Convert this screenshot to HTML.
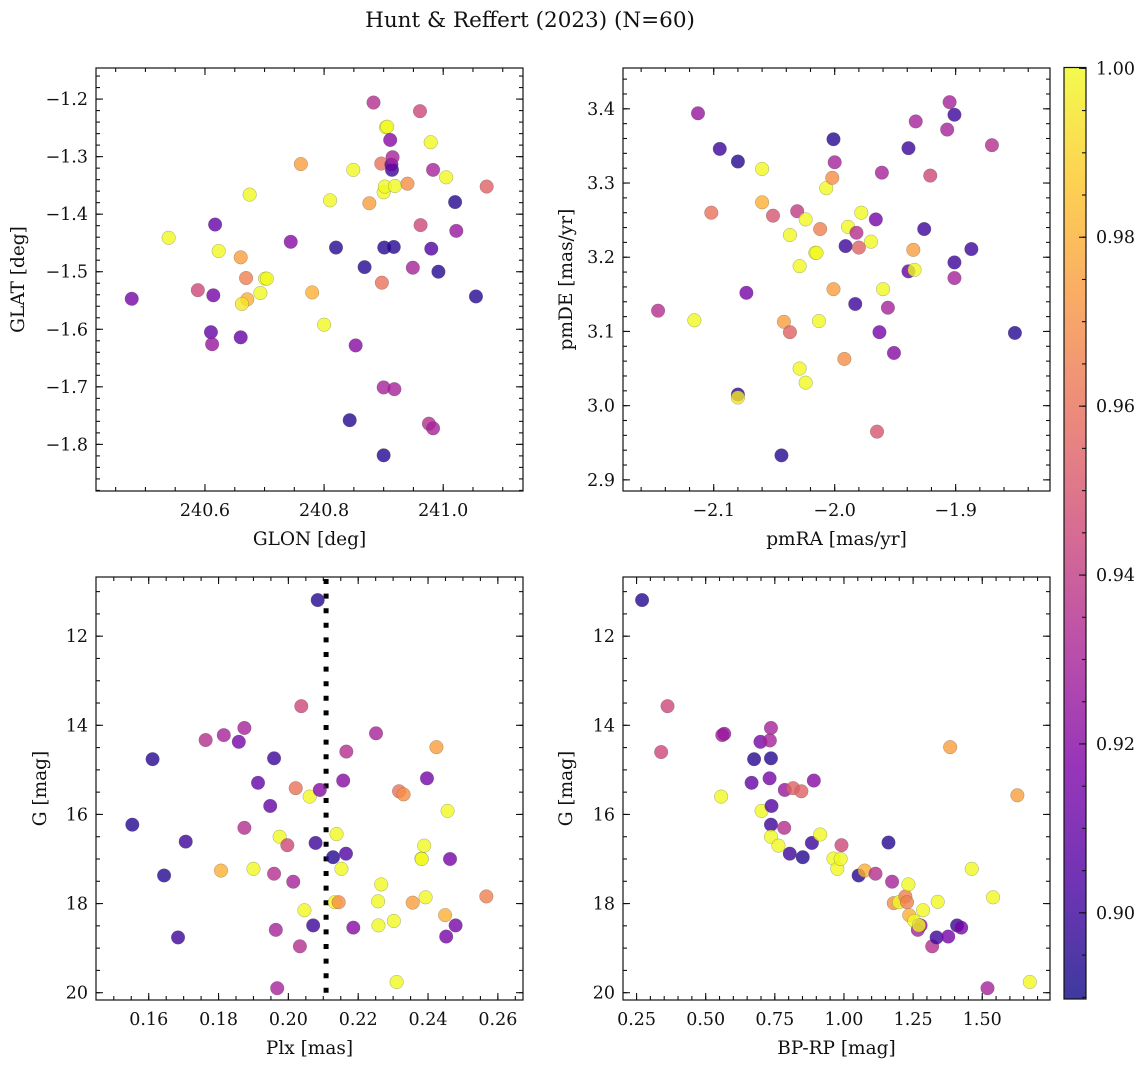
<!DOCTYPE html>
<html><head><meta charset="utf-8"><title>Hunt & Reffert (2023) (N=60)</title>
<style>
html,body{margin:0;padding:0;background:#fff;}
svg{display:block;font-family:"DejaVu Serif","Liberation Serif",serif;}
</style></head>
<body>
<svg id="fig" width="1148" height="1067" viewBox="0 0 1148 1067" xmlns="http://www.w3.org/2000/svg">
<text x="530" y="27" text-anchor="middle" font-size="21.5" fill="#111">Hunt &amp; Reffert (2023) (N=60)</text>
</svg>
<script>
// ---------- Panel 1: GLON vs GLAT ----------
const p1Glon=[240.477,240.539,240.588,240.617,240.614,240.610,240.612,240.623,240.660,240.669,240.671,240.662,240.660,240.675,240.693,240.701,240.704,240.744,240.761,240.780,240.800,240.810,240.820,240.843,240.849,240.853,240.868,240.876,240.883,240.896,240.897,240.900,240.900,240.901,240.900,240.902,240.904,240.906,240.911,240.914,240.913,240.915,240.918,240.917,240.919,240.940,240.949,240.961,240.962,240.979,240.980,240.976,240.983,240.983,240.992,241.005,241.020,241.022,241.055,241.073];
const p1Glat=[-1.547,-1.441,-1.532,-1.418,-1.541,-1.605,-1.626,-1.464,-1.475,-1.511,-1.548,-1.556,-1.614,-1.366,-1.537,-1.512,-1.512,-1.448,-1.313,-1.536,-1.592,-1.376,-1.458,-1.758,-1.323,-1.628,-1.492,-1.381,-1.206,-1.312,-1.519,-1.701,-1.819,-1.458,-1.362,-1.352,-1.249,-1.248,-1.271,-1.323,-1.314,-1.301,-1.704,-1.457,-1.351,-1.347,-1.493,-1.221,-1.419,-1.275,-1.460,-1.764,-1.772,-1.323,-1.500,-1.336,-1.379,-1.429,-1.543,-1.352];
const p1Prob=[0.915,1.0,0.945,0.91,0.915,0.91,0.925,1.0,0.975,0.965,0.98,0.995,0.91,1.0,1.0,1.0,1.0,0.92,0.975,0.98,1.0,1.0,0.895,0.895,1.0,0.92,0.895,0.975,0.935,0.96,0.96,0.93,0.895,0.895,1.0,1.0,1.0,1.0,0.92,0.9,0.91,0.93,0.93,0.895,1.0,0.97,0.93,0.945,0.945,1.0,0.905,0.935,0.93,0.93,0.895,1.0,0.895,0.925,0.895,0.955];
const p1XTicks=[240.6,240.8,241.0];
const p1XTickLabels=["240.6","240.8","241.0"];
const p1YTicks=[-1.8,-1.7,-1.6,-1.5,-1.4,-1.3,-1.2];
const p1YTickLabels=["\u22121.8","\u22121.7","\u22121.6","\u22121.5","\u22121.4","\u22121.3","\u22121.2"];

// ---------- Panel 2: pmRA vs pmDE ----------
const p2Pmra=[-2.146,-2.116,-2.113,-2.102,-2.095,-2.080,-2.080,-2.080,-2.073,-2.060,-2.060,-2.051,-2.044,-2.042,-2.037,-2.037,-2.031,-2.029,-2.029,-2.024,-2.024,-2.016,-2.015,-2.013,-2.012,-2.007,-2.002,-2.001,-2.001,-2.000,-1.992,-1.991,-1.989,-1.983,-1.982,-1.980,-1.978,-1.970,-1.966,-1.965,-1.963,-1.961,-1.960,-1.956,-1.951,-1.939,-1.939,-1.934,-1.935,-1.933,-1.926,-1.921,-1.907,-1.905,-1.901,-1.901,-1.901,-1.887,-1.870,-1.851];
const p2Pmde=[3.128,3.115,3.394,3.260,3.346,3.329,3.015,3.011,3.152,3.319,3.274,3.256,2.933,3.113,3.099,3.230,3.262,3.188,3.050,3.251,3.031,3.206,3.206,3.114,3.238,3.293,3.307,3.157,3.359,3.328,3.063,3.215,3.241,3.137,3.233,3.213,3.260,3.221,3.251,2.965,3.099,3.314,3.157,3.132,3.071,3.347,3.181,3.183,3.210,3.383,3.238,3.310,3.372,3.409,3.392,3.193,3.172,3.211,3.351,3.098];
const p2Prob=[0.935,1.0,0.925,0.96,0.9,0.895,0.895,0.995,0.915,1.0,0.98,0.95,0.895,0.975,0.955,1.0,0.94,1.0,1.0,1.0,1.0,1.0,1.0,1.0,0.965,1.0,0.97,0.975,0.895,0.93,0.97,0.9,1.0,0.9,0.935,0.955,1.0,1.0,0.915,0.95,0.915,0.93,1.0,0.93,0.92,0.9,0.91,1.0,0.975,0.93,0.9,0.945,0.93,0.93,0.9,0.9,0.93,0.9,0.935,0.895];
const p2XTicks=[-2.1,-2.0,-1.9];
const p2XTickLabels=["\u22122.1","\u22122.0","\u22121.9"];
const p2YTicks=[2.9,3.0,3.1,3.2,3.3,3.4];
const p2YTickLabels=["2.9","3.0","3.1","3.2","3.3","3.4"];

// ---------- Panel 3: Plx vs G ----------
const p3Plx=[0.1553,0.1611,0.1644,0.1684,0.1706,0.1763,0.1807,0.1815,0.1858,0.1874,0.1874,0.1900,0.1913,0.1948,0.1959,0.1959,0.1964,0.1968,0.1975,0.1997,0.2014,0.2021,0.2033,0.2037,0.2046,0.2061,0.2071,0.2078,0.2084,0.2090,0.2128,0.2133,0.2144,0.2138,0.2152,0.2157,0.2165,0.2166,0.2186,0.2251,0.2257,0.2258,0.2266,0.2302,0.2310,0.2317,0.2330,0.2356,0.2381,0.2382,0.2389,0.2393,0.2397,0.2424,0.2449,0.2452,0.2456,0.2463,0.2479,0.2567];
const p3G=[16.23,14.76,17.37,18.76,16.61,14.33,17.26,14.22,14.37,14.06,16.30,17.22,15.29,15.81,14.74,17.33,18.59,19.90,16.50,16.69,17.51,15.41,18.96,13.57,18.15,15.60,18.49,16.64,11.19,15.45,16.96,17.97,17.97,16.44,17.22,15.24,16.88,14.59,18.54,14.18,17.95,18.49,17.57,18.39,19.76,15.48,15.55,17.98,16.99,17.00,16.70,17.86,15.19,14.49,18.26,18.74,15.92,17.00,18.49,17.84];
const p3Prob=[0.895,0.895,0.895,0.9,0.9,0.935,0.98,0.93,0.915,0.93,0.935,1.0,0.91,0.91,0.9,0.935,0.93,0.93,1.0,0.945,0.93,0.96,0.935,0.945,1.0,1.0,0.9,0.9,0.895,0.92,0.895,1.0,0.97,1.0,1.0,0.92,0.905,0.935,0.92,0.93,1.0,1.0,1.0,1.0,1.0,0.96,0.97,0.975,1.0,1.0,1.0,1.0,0.915,0.975,0.98,0.915,1.0,0.915,0.915,0.965];
const p3PlxCut=[0.2108];
const p3XTicks=[0.16,0.18,0.20,0.22,0.24,0.26];
const p3XTickLabels=["0.16","0.18","0.20","0.22","0.24","0.26"];
const gTicks=[12,14,16,18,20];
const gTickLabels=["12","14","16","18","20"];

// ---------- Panel 4: BP-RP vs G ----------
const p4Bprp=[0.270,0.339,0.362,0.556,0.560,0.567,0.666,0.675,0.698,0.702,0.731,0.732,0.736,0.736,0.738,0.736,0.736,0.763,0.784,0.786,0.804,0.816,0.846,0.851,0.884,0.891,0.914,0.962,0.976,0.988,0.991,1.053,1.075,1.114,1.161,1.174,1.180,1.199,1.222,1.228,1.233,1.236,1.254,1.267,1.277,1.271,1.286,1.319,1.335,1.339,1.377,1.384,1.409,1.424,1.462,1.519,1.539,1.627,1.672];
const p4G=[11.19,14.60,13.57,15.60,14.22,14.19,15.29,14.76,14.37,15.92,15.19,14.34,14.06,14.74,15.81,16.23,16.50,16.70,16.30,15.45,16.88,15.41,15.48,16.96,16.64,15.24,16.45,16.99,17.22,17.00,16.69,17.37,17.26,17.33,16.63,17.51,17.99,17.97,17.84,17.97,17.57,18.26,18.39,18.59,18.49,18.49,18.15,18.96,18.76,17.96,18.74,14.49,18.49,18.54,17.22,19.90,17.86,15.57,19.76];
const p4Prob=[0.895,0.945,0.945,1.0,0.93,0.925,0.91,0.895,0.915,1.0,0.915,0.93,0.93,0.895,0.905,0.9,1.0,1.0,0.935,0.925,0.9,0.955,0.955,0.895,0.9,0.92,1.0,1.0,1.0,1.0,0.945,0.895,0.98,0.935,0.895,0.93,0.97,1.0,0.965,0.965,1.0,0.98,1.0,0.93,0.92,1.0,1.0,0.935,0.9,1.0,0.915,0.975,0.9,0.915,1.0,0.93,1.0,0.975,1.0];
const p4XTicks=[0.25,0.50,0.75,1.00,1.25,1.50];
const p4XTickLabels=["0.25","0.50","0.75","1.00","1.25","1.50"];

// ---------- Colorbar ----------
const cbarTicks=[0.90,0.92,0.94,0.96,0.98,1.00];
const cbarTickLabels=["0.90","0.92","0.94","0.96","0.98","1.00"];
const cbarRange=[0.8898,1.0001];

const NS="http://www.w3.org/2000/svg";
const svg=document.getElementById('fig');
const TICKFS=17.5, TITLEFS=18.5;
function mk(tag,attrs,parent){const e=document.createElementNS(NS,tag);for(const k in attrs)e.setAttribute(k,attrs[k]);(parent||svg).appendChild(e);return e;}

const plasmaStops=[[0,[13,8,135]],[0.125,[76,2,161]],[0.25,[126,3,168]],[0.375,[169,35,149]],[0.5,[204,71,120]],[0.625,[230,108,92]],[0.75,[248,149,64]],[0.875,[253,197,39]],[1,[240,249,33]]];
function plasma(t){t=Math.max(0,Math.min(1,t));for(let i=1;i<plasmaStops.length;i++){if(t<=plasmaStops[i][0]){const a=plasmaStops[i-1],b=plasmaStops[i];const f=(t-a[0])/(b[0]-a[0]);const c=a[1].map((v,j)=>Math.round(v+(b[1][j]-v)*f));return `rgb(${c[0]},${c[1]},${c[2]})`;}}return 'rgb(240,249,33)';}
function cnorm(v){return (v-cbarRange[0])/(cbarRange[1]-cbarRange[0]);}
function lin(d0,d1,r0,r1){return v=>r0+(v-d0)/(d1-d0)*(r1-r0);}

function panel(cfg){
  const g=mk('g',{});
  
  
  const sx=lin(cfg.xd[0],cfg.xd[1],cfg.x0,cfg.x1);
  const sy=lin(cfg.yd[0],cfg.yd[1],cfg.y1,cfg.y0);
  const tg=mk('g',{stroke:'#111','stroke-width':1.1},g);
  function minors(d0,d1,step){const a=[];const lo=Math.min(d0,d1),hi=Math.max(d0,d1);for(let k=Math.ceil(lo/step-1e-9);k*step<=hi+1e-9;k++)a.push(k*step);return a;}
  minors(cfg.xd[0],cfg.xd[1],cfg.xMinor).forEach(v=>{const x=sx(v);if(x<cfg.x0+0.5||x>cfg.x1-0.5)return;mk('line',{x1:x,x2:x,y1:cfg.y1,y2:cfg.y1-4},tg);mk('line',{x1:x,x2:x,y1:cfg.y0,y2:cfg.y0+4},tg);});
  minors(cfg.yd[0],cfg.yd[1],cfg.yMinor).forEach(v=>{const y=sy(v);if(y<cfg.y0+0.5||y>cfg.y1-0.5)return;mk('line',{x1:cfg.x0,x2:cfg.x0+4,y1:y,y2:y},tg);mk('line',{x1:cfg.x1,x2:cfg.x1-4,y1:y,y2:y},tg);});
  cfg.xTicks.forEach((v,i)=>{const x=sx(v);mk('line',{x1:x,x2:x,y1:cfg.y1,y2:cfg.y1-7},tg);mk('line',{x1:x,x2:x,y1:cfg.y0,y2:cfg.y0+7},tg);
    const t=mk('text',{x:x,y:cfg.y1+25,'text-anchor':'middle','font-size':TICKFS,fill:'#111'},g);t.textContent=cfg.xLabels[i];
    
    });
  cfg.yTicks.forEach((v,i)=>{const y=sy(v);mk('line',{x1:cfg.x0,x2:cfg.x0+7,y1:y,y2:y},tg);mk('line',{x1:cfg.x1,x2:cfg.x1-7,y1:y,y2:y},tg);
    const t=mk('text',{x:cfg.x0-8,y:y+6,'text-anchor':'end','font-size':TICKFS,fill:'#111'},g);t.textContent=cfg.yLabels[i];
    
    });
  if(cfg.vline){cfg.vline.forEach(v=>{const l=mk('line',{x1:sx(v),x2:sx(v),y1:cfg.y0+2,y2:cfg.y1,stroke:'#000','stroke-width':5,'stroke-dasharray':'5 9.6'},g);
    
    });}
  const pg=mk('g',{},g);
  
  
  cfg.xs.forEach((xv,i)=>{const c=mk('circle',{cx:sx(xv),cy:sy(cfg.ys[i]),r:6.8,fill:plasma(cnorm(cfg.cs[i])),'fill-opacity':0.8,stroke:'#555','stroke-opacity':0.5,'stroke-width':0.5},pg);
    
    });
  const fr=mk('rect',{x:cfg.x0,y:cfg.y0,width:cfg.x1-cfg.x0,height:cfg.y1-cfg.y0,fill:'none',stroke:'#111','stroke-width':1.2},g);
  
  
  const xl=mk('text',{x:(cfg.x0+cfg.x1)/2,y:cfg.y1+54,'text-anchor':'middle','font-size':TITLEFS,fill:'#111'},g);xl.textContent=cfg.xTitle;
  
  
  const yy=(cfg.y0+cfg.y1)/2;
  const yl=mk('text',{x:cfg.yTitleX,y:yy,'text-anchor':'middle','font-size':TITLEFS,fill:'#111',transform:`rotate(-90 ${cfg.yTitleX} ${yy})`},g);yl.textContent=cfg.yTitle;
  
  
}

panel({name:'panel-glon-glat',x0:96,x1:523,y0:68,y1:491,xd:[240.417,241.134],yd:[-1.881,-1.146],xMinor:0.05,yMinor:0.02,
  xTicks:p1XTicks,xLabels:p1XTickLabels,yTicks:p1YTicks,yLabels:p1YTickLabels,xs:p1Glon,ys:p1Glat,cs:p1Prob,xTitle:'GLON [deg]',yTitle:'GLAT [deg]',yTitleX:24});
panel({name:'panel-pmra-pmde',x0:623,x1:1050,y0:68,y1:491,xd:[-2.175,-1.822],yd:[2.885,3.455],xMinor:0.02,yMinor:0.02,
  xTicks:p2XTicks,xLabels:p2XTickLabels,yTicks:p2YTicks,yLabels:p2YTickLabels,xs:p2Pmra,ys:p2Pmde,cs:p2Prob,xTitle:'pmRA [mas/yr]',yTitle:'pmDE [mas/yr]',yTitleX:572});
panel({name:'panel-plx-g',x0:96,x1:523,y0:577,y1:1000,xd:[0.1449,0.2672],yd:[20.164,10.672],xMinor:0.005,yMinor:0.5,
  xTicks:p3XTicks,xLabels:p3XTickLabels,yTicks:gTicks,yLabels:gTickLabels,xs:p3Plx,ys:p3G,cs:p3Prob,xTitle:'Plx [mas]',yTitle:'G [mag]',yTitleX:46,vline:p3PlxCut});
panel({name:'panel-bprp-g',x0:623,x1:1050,y0:577,y1:1000,xd:[0.201,1.745],yd:[20.164,10.672],xMinor:0.05,yMinor:0.5,
  xTicks:p4XTicks,xLabels:p4XTickLabels,yTicks:gTicks,yLabels:gTickLabels,xs:p4Bprp,ys:p4G,cs:p4Prob,xTitle:'BP-RP [mag]',yTitle:'G [mag]',yTitleX:572});

(function(){
  const cx0=1064,cx1=1086,cy0=67.5,cy1=999;
  const cg=mk('g',{});
  
  
  const defs=mk('defs',{},cg);
  const lg=mk('linearGradient',{id:'cbg',x1:0,y1:1,x2:0,y2:0},defs);
  for(let i=0;i<=40;i++){mk('stop',{offset:(i/40),'stop-color':plasma(i/40)},lg);}
  const r=mk('rect',{x:cx0,y:cy0,width:cx1-cx0,height:cy1-cy0,fill:'url(#cbg)','fill-opacity':0.8},cg);
  
  
  const s=lin(cbarRange[0],cbarRange[1],cy1,cy0);
  for(let k=Math.ceil(cbarRange[0]/0.005);k*0.005<=cbarRange[1]+1e-9;k++){const y=s(k*0.005);mk('line',{x1:cx1,x2:cx1-4,y1:y,y2:y,stroke:'#111','stroke-width':1.1},cg);}
  cbarTicks.forEach((v,i)=>{const y=s(v);mk('line',{x1:cx1,x2:cx1-7,y1:y,y2:y,stroke:'#111','stroke-width':1.1},cg);
    const t=mk('text',{x:cx1+10,y:y+6,'font-size':TICKFS,fill:'#111'},cg);t.textContent=cbarTickLabels[i];
    
    });
  mk('rect',{x:cx0,y:cy0,width:cx1-cx0,height:cy1-cy0,fill:'none',stroke:'#111','stroke-width':1.2},cg);
})();
</script>
</body></html>
